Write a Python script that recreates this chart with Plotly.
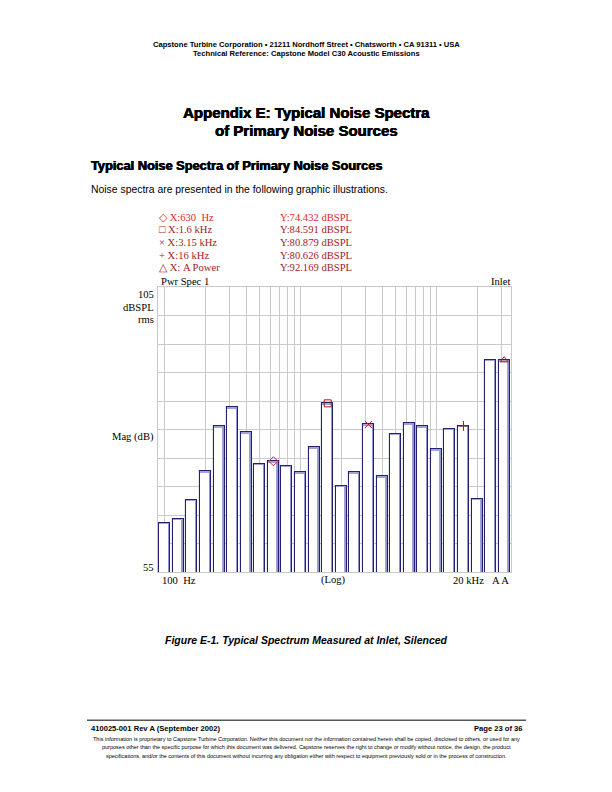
import math
import plotly.graph_objects as go

# ---------------- data ----------------
bands = ["100", "125", "160", "200", "250", "315", "400", "500", "630", "800",
         "1k", "1.25k", "1.6k", "2k", "2.5k", "3.15k", "4k", "5k", "6.3k", "8k",
         "10k", "12.5k", "16k", "20k", "A", "A"]
levels = [63.6, 64.3, 67.7, 72.7, 80.6, 83.9, 79.5, 74.0, 74.432, 73.6,
          72.5, 76.9, 84.591, 70.1, 72.5, 80.879, 71.8, 79.2, 81.1, 80.6,
          76.5, 80.1, 80.626, 67.8, 92.2, 92.169]

grid_freqs = [100, 200, 300, 400, 500, 600, 700, 800, 900,
              1000, 2000, 3000, 4000, 5000, 6000, 7000, 8000, 9000,
              10000, 20000, 30000]

marker_bands = [8, 12, 15, 22, 25]
marker_names = ["630&nbsp;&nbsp;Hz", "1.6 kHz", "3.15 kHz", "16 kHz", "&nbsp;A Power"]
marker_symbols = ["diamond-open", "square-open", "x-thin-open", "cross-thin-open", "triangle-up-open"]
marker_glyphs = ["◇", "□", "×", "+", "△"]
marker_colors = ["#e02a2a", "#a11d1d", "#a11d1d", "#a11d1d", "#a11d1d"]

y_ticks = list(range(55, 106, 5))

# ---------------- helpers ----------------
W, H = 612, 792
def px(x):
    return x / W
def py(y):
    return 1 - y / H

x_pos = list(range(len(levels)))
grid_pos = [10 * math.log10(f / 100) for f in grid_freqs]

NAVY = "#22226e"
LAV = "#a2a2da"
GRID = "#c9c9c9"

fig = go.Figure()
# lavender base (shadow strip)
fig.add_trace(go.Bar(x=x_pos, y=levels, width=0.81, marker=dict(color=LAV, line=dict(width=0)),
                     hoverinfo="skip", showlegend=False))
# white inner
fig.add_trace(go.Bar(x=x_pos, y=[v - 0.25 for v in levels], width=0.63, offset=-0.405,
                     marker=dict(color="white", line=dict(width=0)),
                     hoverinfo="skip", showlegend=False))
# outline
fig.add_trace(go.Bar(x=x_pos, y=levels, width=0.81,
                     marker=dict(color="rgba(0,0,0,0)", line=dict(color=NAVY, width=1.1)),
                     showlegend=False))
# markers
fig.add_trace(go.Scatter(x=marker_bands, y=[levels[i] for i in marker_bands], mode="markers",
                         marker=dict(symbol=marker_symbols, color=marker_colors, size=7,
                                     line=dict(width=1, color=marker_colors)),
                         showlegend=False))

fig.update_layout(
    width=W, height=H, margin=dict(l=0, r=0, t=0, b=0),
    paper_bgcolor="white", plot_bgcolor="white",
    barmode="overlay", bargap=0,
    xaxis=dict(domain=[px(158), px(511)], range=[-0.5, 25.5], tickmode="array",
               tickvals=grid_pos, showticklabels=False, showgrid=True, gridcolor=GRID,
               gridwidth=1, zeroline=False, showline=True, linecolor=GRID, mirror=True,
               ticks=""),
    yaxis=dict(domain=[py(572), py(287)], range=[55, 105], tickmode="array",
               tickvals=y_ticks, showticklabels=False, showgrid=True, gridcolor=GRID,
               gridwidth=1, zeroline=False, showline=True, linecolor=GRID, mirror=True,
               ticks=""),
    font=dict(family="Liberation Sans", color="black"),
)

ann = []
def text(x, y, s, size, anchor="left", family="Liberation Sans", color="black", bold=False,
         italic=False, heavy=False):
    if bold:
        s = "<b>" + s + "</b>"
    if italic:
        s = "<i>" + s + "</i>"
    f = dict(size=size, family=family, color=color)
    if heavy:
        f["shadow"] = "0.45px 0 0 black, -0.25px 0 0 black"
    ann.append(dict(x=px(x), y=py(y), xref="paper", yref="paper", text=s, showarrow=False,
                    xanchor=anchor, yanchor="middle", font=f))

# page header
text(306, 44.5, "Capstone Turbine Corporation • 21211 Nordhoff Street • Chatsworth • CA 91311 • USA", 7.6, "center", bold=True)
text(306, 54, "Technical Reference: Capstone Model C30 Acoustic Emissions", 7.6, "center", bold=True)
text(306, 112, "Appendix E: Typical Noise Spectra", 15, "center", bold=True, heavy=True)
text(306, 130.5, "of Primary Noise Sources", 15, "center", bold=True, heavy=True)
text(89, 165, "Typical Noise Spectra of Primary Noise Sources", 12.8, "left", bold=True, heavy=True)
text(89, 189, "Noise spectra are presented in the following graphic illustrations.", 10.4, "left")

# marker readouts
serif = "Liberation Serif"
row_y = [217.3, 229.8, 242.3, 255, 267.7]
for k, i in enumerate(marker_bands):
    c = marker_colors[k]
    text(157, row_y[k], marker_glyphs[k] + " X:" + marker_names[k], 10.6, "left", family=serif, color=c)
    text(277.5, row_y[k], "Y:%.3f dBSPL" % levels[i], 10.6, "left", family=serif, color=c)

text(158.5, 281, "Pwr Spec 1", 10.6, "left", family=serif)
text(511.5, 281, "Inlet", 10.6, "right", family=serif)

# axis labels
text(155.5, 294, str(y_ticks[-1]), 10.6, "right", family=serif)
text(155.5, 307, "dBSPL", 10.6, "right", family=serif)
text(155.5, 320, "rms", 10.6, "right", family=serif)
text(155.5, 437, "Mag (dB)", 10.6, "right", family=serif)
text(155.5, 567, str(y_ticks[0]), 10.6, "right", family=serif)

text(159.5, 580, bands[0] + "&nbsp;&nbsp;Hz", 10.6, "left", family=serif)
text(334, 580, "(Log)", 10.6, "center", family=serif)
text(485.5, 580, bands[23].replace("k", "") + " kHz", 10.6, "right", family=serif)
text(510.5, 580, bands[24] + " " + bands[25], 10.6, "right", family=serif)

# caption
text(306, 640, "Figure E-1. Typical Spectrum Measured at Inlet, Silenced", 10.5, "center", bold=True, italic=True)

# footer
text(89, 728.5, "410025-001 Rev A (September 2002)", 7.6, "left", bold=True)
text(525, 728.5, "Page 23 of 36", 7.6, "right", bold=True)
disc = ["This information is proprietary to Capstone Turbine Corporation. Neither this document nor the information contained herein shall be copied, disclosed to others, or used for any",
        "purposes other than the specific purpose for which this document was delivered. Capstone reserves the right to change or modify without notice, the design, the product",
        "specifications, and/or the contents of this document without incurring any obligation either with respect to equipment previously sold or in the process of construction."]
for j, line in enumerate(disc):
    text(306, 738.5 + j * 8.7, line, 5.5, "center")

fig.update_layout(annotations=ann,
                  shapes=[dict(type="line", xref="paper", yref="paper", x0=px(87), x1=px(526),
                               y0=py(720.3), y1=py(720.3), line=dict(color="#555555", width=1.4))])

fig.write_html("out.html", config={"displayModeBar": False},
               post_script="document.body.style.margin='0';document.body.style.padding='0';")
